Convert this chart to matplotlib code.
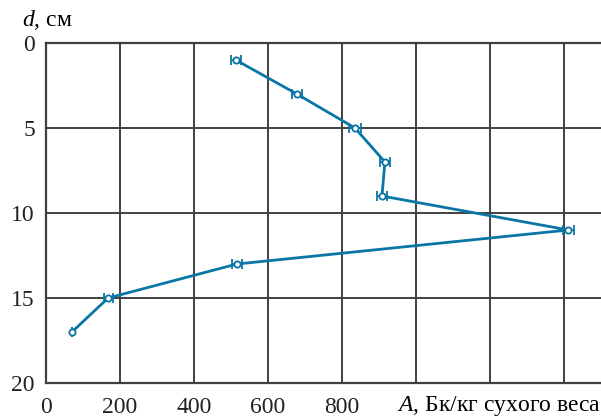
import matplotlib
matplotlib.use('Agg')
from matplotlib import pyplot as plt

# data
depth = [1, 3, 5, 7, 9, 11, 13, 15, 17]
activity = [513, 678, 835, 916, 908, 1412, 516, 168, 70]
activity_err = [14, 14, 16, 14, 14, 16, 14, 12, 0]

x_ticks = [0, 200, 400, 600, 800, 1000, 1200, 1400]
x_labels = ['0', '200', '400', '600', '800', '', '', '']
y_ticks = [0, 5, 10, 15, 20]

plt.rcParams['font.family'] = ['Liberation Serif', 'DejaVu Serif']
plt.rcParams['font.size'] = 17
plt.rcParams['mathtext.fontset'] = 'custom'
plt.rcParams['mathtext.rm'] = 'Liberation Serif'
plt.rcParams['mathtext.it'] = 'Liberation Serif:italic'

blue = '#0a76a6'
grid = '#404040'

fig = plt.figure(figsize=(6.01, 4.2), dpi=100)
ax = fig.add_axes([46/601, 1-383/420, 1-46/601, 340/420])

ax.errorbar(activity, depth, xerr=activity_err, color=blue, lw=2, marker='o', ms=4.5,
            mfc='white', mec=blue, mew=1.3, ecolor=blue, elinewidth=1.3, capsize=3.5, capthick=1.3,
            zorder=3)

ax.set_xlim(0, 1500)
ax.set_ylim(20, 0)
ax.set_xticks(x_ticks)
ax.set_xticklabels(x_labels)
ax.set_yticks(y_ticks)
ax.tick_params(axis='x', length=0, pad=10, colors='#222222')
ax.tick_params(axis='y', length=0, pad=8, colors='#222222')
ax.grid(True, color=grid, lw=1.4)
for s in ['left', 'top', 'bottom']:
    ax.spines[s].set_color(grid)
    ax.spines[s].set_linewidth(1.6)
ax.spines['right'].set_visible(False)

fig.text(22/601, 1-20/420, r'$d$, см', fontsize=17, va='center', ha='left')
fig.text(397/601, 1-406/420, r'$A$, Бк/кг сухого веса', fontsize=17, va='center', ha='left')

fig.savefig('out.png', dpi=100)
